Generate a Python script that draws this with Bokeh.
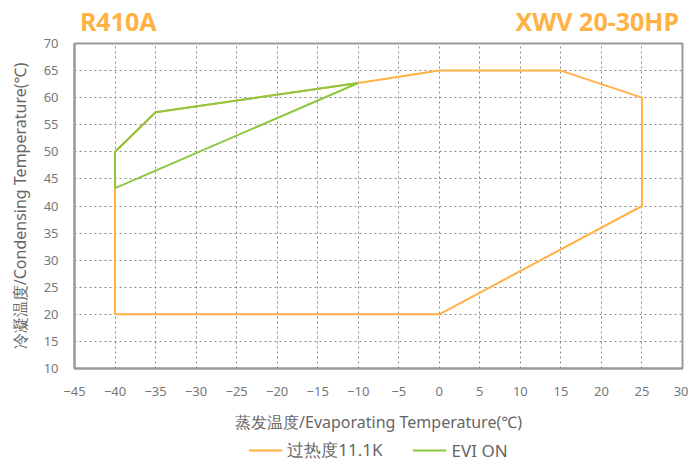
from bokeh.plotting import figure
from bokeh.models import Legend, LegendItem, FixedTicker, LinearAxis, Range1d
from bokeh.layouts import column
from bokeh.embed import file_html
from bokeh.resources import INLINE

# Data
orange_x = [-40, 0, 25, 25, 15, 0, -10, -35, -40, -40]
orange_y = [20, 20, 40, 60, 65, 65, 62.7, 57.3, 50, 20]
green_x = [-40, -40, -35, -10, -40]
green_y = [43.3, 50, 57.3, 62.7, 43.3]
x_ticks = list(range(-45, 31, 5))
y_ticks = list(range(10, 71, 5))
legend_labels = ["过热度11.1K", "EVI ON"]
titles = ["R410A", "XWV  20-30HP"]
x_label = "蒸发温度/Evaporating Temperature(℃)"
y_label = "冷凝温度/Condensing Temperature(℃)"

ORANGE = "#FFB143"
GREEN = "#8DC63F"
FONT = "Noto Sans"

p = figure(frame_width=608, frame_height=325,
           x_range=(-45, 30), y_range=(10, 70),
           output_backend="svg", toolbar_location=None,
           min_border_left=74, min_border_right=6, min_border_top=43,
           min_border_bottom=0)

p.outline_line_color = "#999999"
p.outline_line_width = 2

for ax in (p.xaxis, p.yaxis):
    ax.axis_line_color = "#999999"
    ax.axis_line_width = 2
    ax.major_tick_line_color = None
    ax.minor_tick_line_color = None
    ax.major_label_text_color = "#777777"
    ax.major_label_text_font = FONT
    ax.major_label_text_font_size = "13px"
    ax.axis_label_text_color = "#666666"
    ax.axis_label_text_font = FONT
    ax.axis_label_text_font_size = "16px"
    ax.axis_label_text_font_style = "normal"

p.xaxis.ticker = FixedTicker(ticks=x_ticks)
p.yaxis.ticker = FixedTicker(ticks=y_ticks)
p.xaxis.axis_label = x_label
p.yaxis.axis_label = y_label
p.xaxis.major_label_standoff = 12
p.xaxis.axis_label_standoff = 12
p.yaxis.major_label_standoff = 10
p.yaxis.axis_label_standoff = 10

for g in (p.xgrid, p.ygrid):
    g.grid_line_color = "#888888"
    g.grid_line_dash = "2 3"
    g.grid_line_width = 1

r1 = p.line(orange_x, orange_y, line_color=ORANGE, line_width=2)
r2 = p.line(green_x, green_y, line_color=GREEN, line_width=2)

# Titles via a top axis on its own 0..1 range
p.extra_x_ranges = {"title": Range1d(0, 1)}
tax = LinearAxis(x_range_name="title", ticker=FixedTicker(ticks=[0.072, 0.865]),
                 major_label_overrides={0.072: titles[0], 0.865: titles[1]})
tax.axis_line_color = None
tax.major_tick_line_color = None
tax.minor_tick_line_color = None
tax.major_label_text_color = ORANGE
tax.major_label_text_font = FONT
tax.major_label_text_font_size = "25px"
tax.major_label_text_font_style = "bold"
tax.major_label_standoff = 0
p.add_layout(tax, "above")

# Legend strip as a small companion figure below the chart
p2 = figure(width=688, height=30, x_range=(0, 1), y_range=(0, 1),
            output_backend="svg", toolbar_location=None,
            x_axis_location=None, y_axis_location=None,
            min_border_left=60, min_border_right=0, min_border_top=0,
            min_border_bottom=0, outline_line_color=None)
p2.grid.visible = False
# same series, lying outside this strip's ranges (only their legend glyphs show)
l1 = p2.line(orange_x, orange_y, line_color=ORANGE, line_width=2)
l2 = p2.line(green_x, green_y, line_color=GREEN, line_width=2)

legend = Legend(items=[LegendItem(label=legend_labels[0], renderers=[l1]),
                       LegendItem(label=legend_labels[1], renderers=[l2])],
                orientation="horizontal", location="center",
                label_text_font=FONT, label_text_font_size="17px",
                label_text_color="#666666", border_line_color=None,
                background_fill_alpha=0, glyph_width=34, spacing=30,
                margin=0, padding=2)
p2.add_layout(legend, "center")

layout = column(p, p2, spacing=0)
open("out.html", "w").write(file_html(layout, INLINE))
